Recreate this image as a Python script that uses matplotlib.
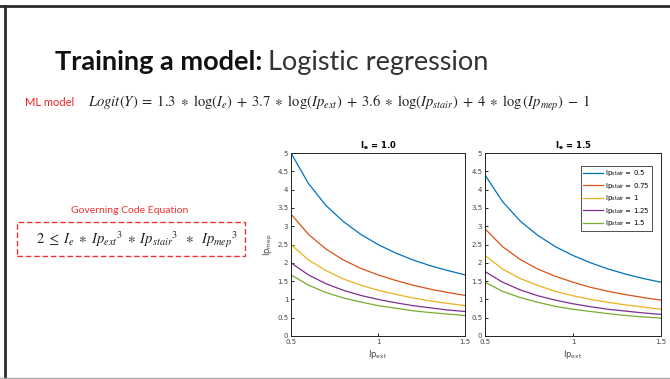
import numpy as np
import matplotlib.pyplot as plt
from matplotlib.patches import Rectangle
from matplotlib.lines import Line2D

# data
ip_ext = [0.5, 0.6, 0.7, 0.8, 0.9, 1.0, 1.1, 1.2, 1.3, 1.4, 1.5]
stair_labels = ['0.5', '0.75', '1', '1.25', '1.5']

mep_ie10 = [
    [5.00, 4.17, 3.57, 3.13, 2.78, 2.50, 2.27, 2.08, 1.92, 1.79, 1.67],
    [3.33, 2.78, 2.38, 2.08, 1.85, 1.67, 1.52, 1.39, 1.28, 1.19, 1.11],
    [2.50, 2.08, 1.79, 1.56, 1.39, 1.25, 1.14, 1.04, 0.96, 0.89, 0.83],
    [2.00, 1.67, 1.43, 1.25, 1.11, 1.00, 0.91, 0.83, 0.77, 0.71, 0.67],
    [1.67, 1.39, 1.19, 1.04, 0.93, 0.83, 0.76, 0.69, 0.64, 0.60, 0.56],
]
mep_ie15 = [
    [4.40, 3.67, 3.14, 2.75, 2.44, 2.20, 2.00, 1.83, 1.69, 1.57, 1.47],
    [2.93, 2.44, 2.09, 1.83, 1.63, 1.47, 1.33, 1.22, 1.13, 1.05, 0.98],
    [2.20, 1.83, 1.57, 1.38, 1.22, 1.10, 1.00, 0.92, 0.85, 0.79, 0.73],
    [1.76, 1.47, 1.26, 1.10, 0.98, 0.88, 0.80, 0.73, 0.68, 0.63, 0.59],
    [1.47, 1.22, 1.05, 0.92, 0.81, 0.73, 0.67, 0.61, 0.56, 0.52, 0.49],
]
panel_titles = [r'I$_\mathregular{e}$ = 1.0', r'I$_\mathregular{e}$ = 1.5']

colors = ['#0072BD', '#D95319', '#EDB120', '#7E2F8E', '#77AC30']

plt.rcParams['mathtext.fontset'] = 'stix'

W, H = 670, 379
fig = plt.figure(figsize=(6.7, 3.79), dpi=100)
fig.patch.set_facecolor('white')

def fx(px):
    return px / W

def fy(py):
    return 1 - py / H

# slide frame
fig.add_artist(Line2D([fx(0), fx(670)], [fy(6), fy(6)], color='#2b2b2b', lw=2.0))
fig.add_artist(Line2D([fx(5), fx(5)], [fy(6), fy(379)], color='#2b2b2b', lw=2.0))
fig.add_artist(Line2D([fx(0), fx(670)], [fy(378), fy(378)], color='#aaaaaa', lw=1.0))

# slide title, second half placed right after the bold part
t1 = fig.text(fx(55), fy(70), 'Training a model:', fontsize=19.5, fontweight='bold',
              family='Lato', va='baseline', color='#111111')
renderer = fig.canvas.get_renderer()
bb = t1.get_window_extent(renderer)
fig.text(fx(bb.x1 + 6), fy(70), 'Logistic regression', fontsize=19.5, family='Lato',
         va='baseline', color='#333333')

fig.text(fx(25), fy(106), 'ML model', fontsize=8, color='#ee2222', family='Lato',
         va='baseline')
fig.text(fx(88), fy(107),
         r'$Logit(Y) \;=\; 1.3 \;\ast\; \log(I_e) \;+\; 3.7 \;\ast\; \log(Ip_{ext}) \;+\; '
         r'3.6 \;\ast\; \log(Ip_{stair}) \;+\; 4 \;\ast\; \log\left(Ip_{mep}\right) \;-\; 1$',
         fontsize=10.5, va='baseline', color='#222222')

fig.text(fx(130), fy(213), 'Governing Code Equation', fontsize=7.5, color='#ee3333',
         family='Lato', ha='center', va='baseline')
fig.add_artist(Rectangle((fx(17), fy(256)), fx(228), 34 / H, fill=False,
                         edgecolor='#ee3333', lw=1.0, ls=(0, (4, 2))))
fig.text(fx(137), fy(244),
         r'$2 \;\leq\; I_e \;\ast\; Ip_{ext}{}^3 \;\ast\; Ip_{stair}{}^3 \;\;\ast\;\; Ip_{mep}{}^3$',
         fontsize=10.5, ha='center', va='baseline', color='#222222')

# the two MATLAB-style panels
axes_px = [(291, 153, 465, 336), (485, 153, 661, 336)]
for k, (l, t, r, b) in enumerate(axes_px):
    ax = fig.add_axes([fx(l), fy(b), fx(r - l), (b - t) / H])
    data = mep_ie10 if k == 0 else mep_ie15
    for i, ys in enumerate(data):
        ax.plot(ip_ext, ys, color=colors[i], lw=0.9,
                label=r'Ip$_\mathregular{stair}$ = ' + stair_labels[i])
    ax.set_xlim(0.5, 1.5)
    ax.set_ylim(0, 5)
    ax.set_xticks([0.5, 1, 1.5])
    ax.set_xticklabels(['0.5', '1', '1.5'])
    ax.set_yticks(np.arange(0, 5.01, 0.5))
    ax.set_yticklabels(['0', '0.5', '1', '1.5', '2', '2.5', '3', '3.5', '4', '4.5', '5'])
    ax.tick_params(direction='in', length=2.5, width=0.6, labelsize=5, pad=2,
                   labelcolor='#444444', top=False, right=False)
    for s in ax.spines.values():
        s.set_linewidth(0.7)
        s.set_color('#222222')
    ax.set_title(panel_titles[k], fontsize=6, fontweight='bold', pad=3)
    ax.set_xlabel(r'Ip$_\mathregular{ext}$', fontsize=6, color='#444444', labelpad=2)
    if k == 0:
        ax.set_ylabel(r'Ip$_\mathregular{mep}$', fontsize=6, color='#444444', labelpad=2)
    else:
        leg = ax.legend(loc='upper right', fontsize=5, frameon=True, fancybox=False,
                        edgecolor='#222222', handlelength=2.8, borderpad=0.4,
                        labelspacing=0.35, handletextpad=0.3,
                        bbox_to_anchor=(0.97, 0.95))
        leg.get_frame().set_linewidth(0.7)

fig.savefig('out.png', dpi=100)
